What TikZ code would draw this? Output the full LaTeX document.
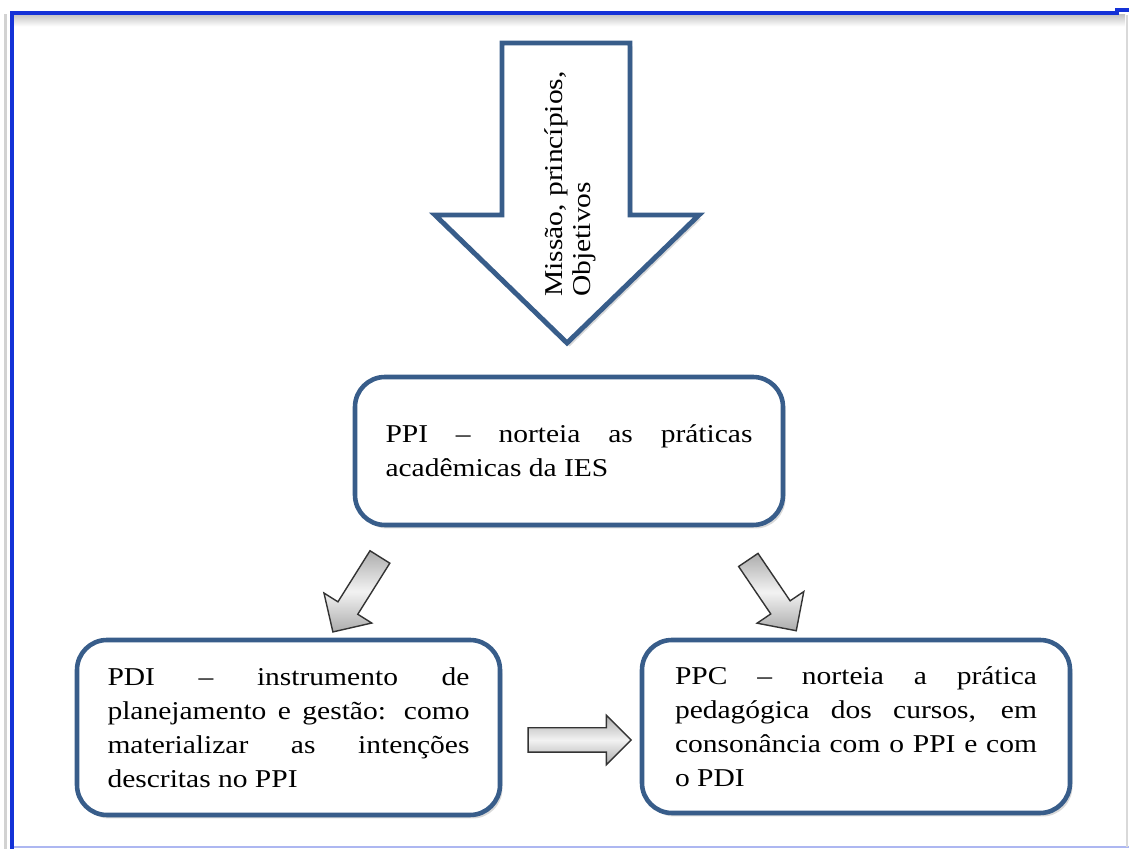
\documentclass[tikz,border=0pt]{standalone}
\usepackage{fontspec}
\setmainfont[FakeStretch=1.15]{Liberation Serif}
\usetikzlibrary{shapes.arrows,shadows}
\definecolor{moldura}{RGB}{20,50,215}
\definecolor{bordaazul}{RGB}{56,93,138}
\begin{document}
\begin{tikzpicture}[node distance=2cm]
    \tikzset{ sombra/.style={drop shadow={shadow xshift=0.05cm,shadow yshift=-0.07cm,opacity=0.3}},
            caixa/.style={rectangle,draw=bordaazul,line width=2.6pt,rounded corners=0.6cm,fill=white,sombra,minimum width=8.56cm,minimum height=2.96cm,text width=7.24cm,align=justify,font=\fontsize{14.6}{19.4}\selectfont},
            seta/.style={single arrow,draw=gray!40!black,line width=0.8pt,inner xsep=0pt,inner ysep=0.22cm,single arrow head extend=0.33cm,shading=axis,top color=gray!65,bottom color=gray!65,middle color=gray!10}}
    \useasboundingbox (0,0) rectangle (22.58,16.98);

    % Moldura
    \shade[top color=gray!45, bottom color=white] (0.28,16.68) rectangle (22.5,16.45);
    \draw[gray!35, line width=0.06cm] (0.12,0) -- (0.12,16.7);
    \draw[moldura!35, line width=0.03cm] (0.28,0.04) -- (22.58,0.04);
    \draw[gray!30, line width=0.03cm] (22.54,0.04) -- (22.54,16.68);
    \draw[moldura, line width=0.08cm] (0.24,0) -- (0.24,16.72) -- (22.34,16.72) -- (22.34,16.78) -- (22.58,16.78);

    % Seta grande
    \draw[bordaazul, line width=2.8pt, fill=white, sombra] (10.04,16.12) -- (12.60,16.12) -- (12.60,12.68) -- (13.98,12.68) -- (11.34,10.12) -- (8.70,12.68) -- (10.04,12.68) -- cycle;
    \node[rotate=90, anchor=west, align=left, inner sep=0pt, font=\fontsize{14.6}{16}\selectfont] (missao) at (11.40,11.04) {Missão, princípios,\\Objetivos};

    \node[caixa, text width=7.34cm] (ppi) at (11.38,7.96) {PPI – norteia as práticas\linebreak acadêmicas da IES};
    \node[caixa, below of=ppi, xshift=-5.61cm, yshift=-3.53cm, minimum width=8.46cm, minimum height=3.5cm] (pdi) {PDI – instrumento de\linebreak planejamento e gestão: como\linebreak materializar as intenções\linebreak descritas no PPI};
    \node[caixa, below of=ppi, xshift=5.74cm, yshift=-3.51cm, minimum height=3.46cm] (ppc) {PPC – norteia a prática\linebreak pedagógica dos cursos, em\linebreak consonância com o PPI e com\linebreak o PDI};

    % Setas
    \node[seta, below of=ppi, xshift=-4.19cm, yshift=-0.77cm, rotate=237.9, minimum height=1.77cm] (s1) {};
    \node[seta, below of=ppi, xshift=4.00cm, yshift=-0.79cm, rotate=-55.9, minimum height=1.71cm] (s2) {};
    \node[seta, right of=pdi, xshift=3.70cm, yshift=-0.25cm, inner ysep=0.23cm, single arrow head extend=0.25cm, minimum height=2.06cm] (s3) {};

\end{tikzpicture}
\end{document}
